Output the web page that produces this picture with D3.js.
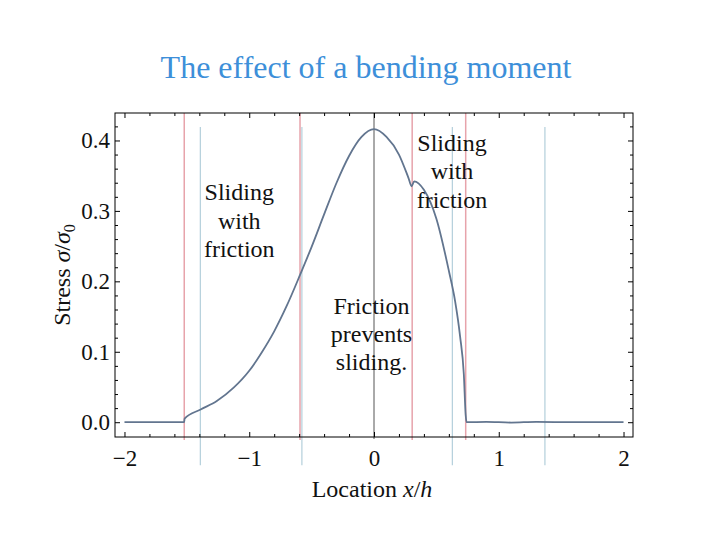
<!DOCTYPE html>
<html><head><meta charset="utf-8">
<script src="https://cdn.jsdelivr.net/npm/d3@7/dist/d3.min.js"></script>
<style>body{margin:0;background:#fff}svg{display:block}</style>
</head><body><svg id="c" width="720" height="540"></svg>
<script>
// ---- data ----
const curveX = [-2.0, -1.522, -1.518, -1.39, -1.26, -1.125, -1.0, -0.9, -0.8, -0.7, -0.592, -0.5, -0.4, -0.3, -0.2, -0.1, 0.0, 0.1, 0.2, 0.276, 0.302, 0.322, 0.4, 0.5, 0.6, 0.65, 0.69, 0.72, 0.735, 0.742, 0.9, 1.1, 1.3, 1.6, 2.0];
const curveY = [0.0, 0.0, 0.005, 0.018, 0.030, 0.049, 0.073, 0.099, 0.129, 0.165, 0.2095, 0.249, 0.295, 0.340, 0.378, 0.405, 0.416, 0.405, 0.380, 0.347, 0.335, 0.342, 0.330, 0.289, 0.215, 0.172, 0.122, 0.068, 0.010, 0.0, 0.0005, -0.0005, 0.0005, 0.0, 0.0];
const redLines = [-1.521, -0.593, 0.306, 0.735];
const blueLines = [-1.392, -0.578, 0.628, 1.37];
const centerLines = [0];
const xTicks = [-2, -1, 0, 1, 2];
const xTickLabels = ["\u22122", "\u22121", "0", "1", "2"];
const yTicks = [0, 0.1, 0.2, 0.3, 0.4];
const yTickLabels = ["0.0", "0.1", "0.2", "0.3", "0.4"];
const xMinor = d3.range(-20, 21, 2).map(d => d / 10).filter(d => !xTicks.includes(d));
const yMinor = d3.range(0, 43, 2).map(d => d / 100).filter(d => !yTicks.some(t => Math.abs(t - d) < 1e-9));
const titleText = "The effect of a bending moment";
const notes = [
  {lines: ["Sliding", "with", "friction"], x: -1.08, y: 0.315},
  {lines: ["Sliding", "with", "friction"], x: 0.625, y: 0.385},
  {lines: ["Friction", "prevents", "sliding."], x: -0.02, y: 0.154}
];

// ---- layout ----
const L = 115, R = 633, T = 113, B = 437;
const serif = "'Liberation Serif','Times New Roman',serif";
const svg = d3.select("#c");
const x = d3.scaleLinear().domain([-2.076, 2.076]).range([L, R]);
const y = d3.scaleLinear().domain([-0.021, 0.439]).range([B, T]);

// title
svg.append("text").attr("x", 366).attr("y", 78).attr("text-anchor", "middle")
  .attr("font-family", serif).attr("font-size", 32).attr("fill", "#3d8fd9").text(titleText);

// vertical reference lines
svg.append("g").selectAll("line").data(blueLines).join("line")
  .attr("x1", d => x(d)).attr("x2", d => x(d))
  .attr("y1", y(0.419)).attr("y2", y(-0.061))
  .attr("stroke", "#b3cfdb").attr("stroke-width", 1.2);
svg.append("g").selectAll("line").data(redLines).join("line")
  .attr("x1", d => x(d)).attr("x2", d => x(d))
  .attr("y1", T).attr("y2", B + 3)
  .attr("stroke", "#e7a3ab").attr("stroke-width", 1.5);
svg.append("g").selectAll("line").data(centerLines).join("line")
  .attr("x1", d => x(d)).attr("x2", d => x(d))
  .attr("y1", T).attr("y2", B + 2)
  .attr("stroke", "#555").attr("stroke-width", 1);

// curve
const pts = curveX.map((d, i) => [d, curveY[i]]);
svg.append("path").datum(pts)
  .attr("d", d3.line().x(d => x(d[0])).y(d => y(d[1])).curve(d3.curveMonotoneX))
  .attr("fill", "none").attr("stroke", "#62758f").attr("stroke-width", 1.8);

// axes (ticks inward on all sides)
function styleAxis(g) {
  g.select(".domain").remove();
  g.selectAll("line").attr("stroke", "#000").attr("stroke-width", 1);
  g.selectAll("text").attr("font-family", serif).attr("font-size", 23).attr("fill", "#111");
}
const xb = svg.append("g").attr("transform", `translate(0,${B})`)
  .call(d3.axisBottom(x).tickValues(xTicks).tickSize(-5).tickPadding(13)
    .tickFormat((d, i) => xTickLabels[i]));
styleAxis(xb);
const xbm = svg.append("g").attr("transform", `translate(0,${B})`)
  .call(d3.axisBottom(x).tickValues(xMinor).tickSize(-3).tickFormat(""));
styleAxis(xbm);
const xt = svg.append("g").attr("transform", `translate(0,${T})`)
  .call(d3.axisTop(x).tickValues(xTicks).tickSize(-5).tickFormat(""));
styleAxis(xt);
const xtm = svg.append("g").attr("transform", `translate(0,${T})`)
  .call(d3.axisTop(x).tickValues(xMinor).tickSize(-3).tickFormat(""));
styleAxis(xtm);
const yl = svg.append("g").attr("transform", `translate(${L},0)`)
  .call(d3.axisLeft(y).tickValues(yTicks).tickSize(-5).tickPadding(5)
    .tickFormat((d, i) => yTickLabels[i]));
styleAxis(yl);
const ylm = svg.append("g").attr("transform", `translate(${L},0)`)
  .call(d3.axisLeft(y).tickValues(yMinor).tickSize(-3).tickFormat(""));
styleAxis(ylm);
const yr = svg.append("g").attr("transform", `translate(${R},0)`)
  .call(d3.axisRight(y).tickValues(yTicks).tickSize(-5).tickFormat(""));
styleAxis(yr);
const yrm = svg.append("g").attr("transform", `translate(${R},0)`)
  .call(d3.axisRight(y).tickValues(yMinor).tickSize(-3).tickFormat(""));
styleAxis(yrm);

// frame
svg.append("rect").attr("x", L).attr("y", T).attr("width", R - L).attr("height", B - T)
  .attr("fill", "none").attr("stroke", "#000").attr("stroke-width", 1);

// axis labels
const xl = svg.append("text").attr("x", (L + R) / 2 - 2).attr("y", 497).attr("text-anchor", "middle")
  .attr("font-family", serif).attr("font-size", 24).attr("fill", "#111");
xl.append("tspan").text("Location ");
xl.append("tspan").attr("font-style", "italic").text("x");
xl.append("tspan").text("/");
xl.append("tspan").attr("font-style", "italic").text("h");

const ylab = svg.append("text").attr("transform", `translate(70,${(T + B) / 2}) rotate(-90)`)
  .attr("text-anchor", "middle").attr("font-family", serif).attr("font-size", 24).attr("fill", "#111");
ylab.append("tspan").text("Stress ");
ylab.append("tspan").attr("font-style", "italic").text("\u03c3");
ylab.append("tspan").text("/");
ylab.append("tspan").attr("font-style", "italic").text("\u03c3");
ylab.append("tspan").attr("font-size", 16).attr("dy", 5).text("0");

// annotations
notes.forEach(n => {
  const t = svg.append("text").attr("text-anchor", "middle")
    .attr("font-family", serif).attr("font-size", 24).attr("fill", "#111");
  n.lines.forEach((s, i) => {
    t.append("tspan").attr("x", x(n.x)).attr("y", y(n.y) + i * 28.3).text(s);
  });
});
</script></body></html>
